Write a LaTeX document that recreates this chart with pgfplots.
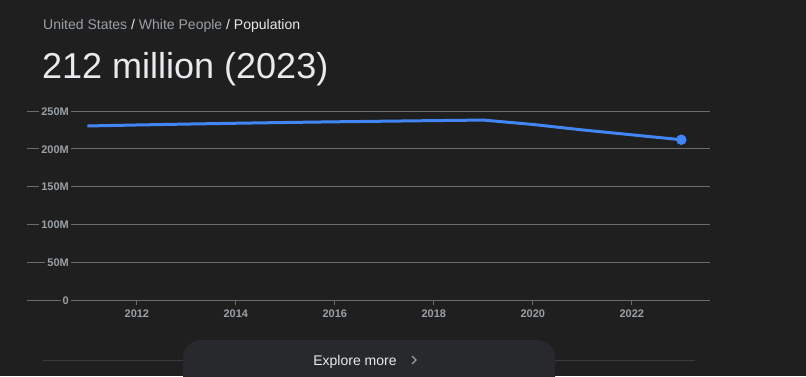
\documentclass[border=0pt]{standalone}
\usepackage{pgfplots}
\pgfplotsset{compat=1.18}
\usepackage{fontspec}
\setmainfont{Liberation Sans}
\definecolor{bg}{HTML}{1F1F1F}
\definecolor{gridc}{HTML}{6B6B6B}
\definecolor{ticktxt}{HTML}{9AA0A6}
\definecolor{titletxt}{HTML}{E8EAED}
\definecolor{lineblue}{HTML}{4285F4}
\definecolor{btn}{HTML}{28292C}
\definecolor{sepline}{HTML}{3A3B3E}
\begin{document}
\begin{tikzpicture}[x=1pt,y=1pt]
\path[use as bounding box] (0,0) rectangle (806,376);
\fill[bg] (0,0) rectangle (806,376);
% breadcrumb and title
\node[anchor=base west, inner sep=0pt, font=\fontsize{14}{16}\selectfont] at (43,347)
  {\textcolor{ticktxt}{United States}\hspace{0.28em}\textcolor{titletxt}{/}\hspace{0.28em}\textcolor{ticktxt}{White People}\hspace{0.28em}\textcolor{titletxt}{/}\hspace{0.28em}\textcolor{titletxt}{Population}};
\node[anchor=base west, inner sep=0pt, text=titletxt, font=\fontsize{36}{40}\selectfont] at (42,298) {212 million (2023)};
\begin{axis}[
  at={(27pt,76pt)}, anchor=south west,
  scale only axis, width=683pt, height=189pt,
  xmin=2009.78, xmax=2023.58, ymin=0, ymax=250,
  clip=false,
  axis line style={draw=none},
  ymajorgrids, grid style={gridc, line width=0.8pt},
  xtick={2012,2014,...,2022},
  ytick={0,50,100,150,200,250},
  yticklabels={0,50M,100M,150M,200M,250M},
  xtick pos=lower, tick align=outside,
  ytick style={draw=none},
  xtick style={gridc, line width=0.8pt},
  major tick length=5pt,
  /pgf/number format/1000 sep={},
  /pgf/number format/assume math mode=true,
  tick label style={text=ticktxt, font=\fontsize{11}{13}\selectfont\bfseries},
  yticklabel style={anchor=east, fill=bg, inner sep=2pt, xshift=49pt, yshift=-0.5pt},
  xticklabel style={yshift=-1.5pt},
]
\addplot[lineblue, line width=3pt, line join=round] coordinates {
 (2011,230.2) (2012,231.5) (2013,232.7) (2014,233.8) (2015,234.8) (2016,235.7)
 (2017,236.5) (2018,237.3) (2019,238.0) (2020,232.2) (2021,225.0) (2022,218.5) (2023,212.0)};
\addplot[only marks, mark=*, mark size=5pt, color=lineblue] coordinates {(2023,212.0)};
\end{axis}
% bottom separator and button
\draw[sepline, line width=0.8pt] (43,16) -- (695,16);
\begin{scope}
\clip (0,0) rectangle (806,376);
\fill[btn, rounded corners=18pt] (183,-30) rectangle (555,36);
\end{scope}
\node[anchor=base, inner sep=0pt, text=titletxt, font=\fontsize{14}{16}\selectfont] at (355,11) {Explore more};
\draw[ticktxt, line width=1.3pt] (412,20) -- (416,16) -- (412,12);
\end{tikzpicture}
\end{document}
